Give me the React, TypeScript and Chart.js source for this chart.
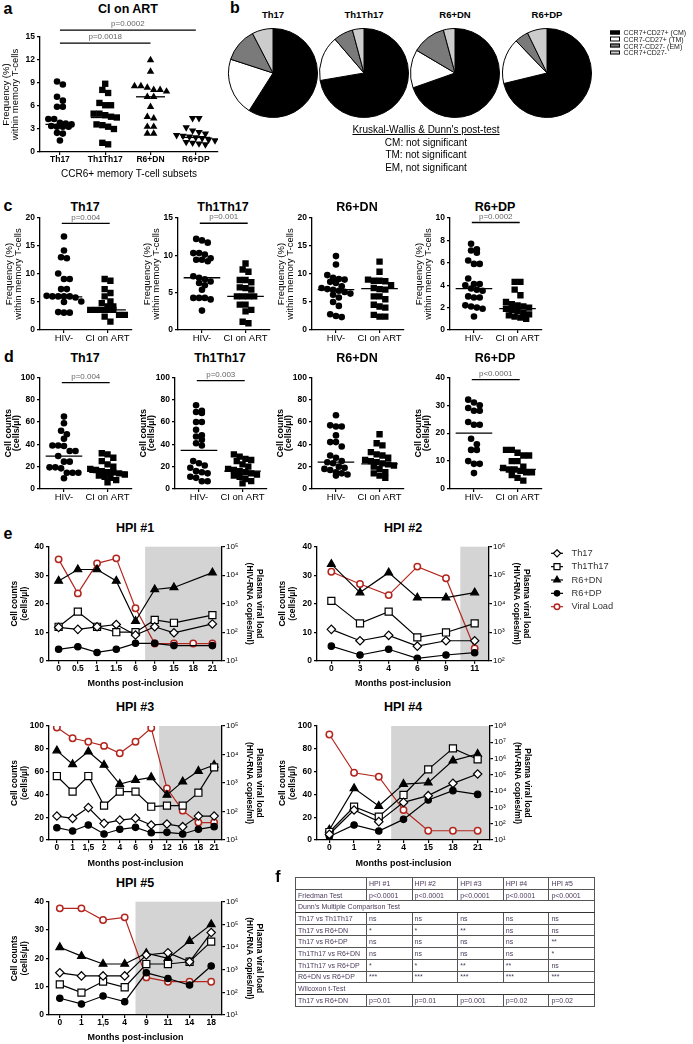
import React, { useEffect, useRef } from 'react';
import { Chart, registerables } from 'chart.js';

Chart.register(...registerables);

const FONT = 'Arial, "Liberation Sans", Helvetica, sans-serif';
Chart.defaults.font.family = FONT;
Chart.defaults.color = '#000';

// ================= Panel a : CI on ART =================
const aCategories = ['Th17', 'Th1Th17', 'R6+DN', 'R6+DP'];
const aTh17 = [9.2, 8.8, 7.2, 6.7, 5.9, 5.9, 4.3, 4.3, 3.8, 3.7, 3.6, 3.4, 3.3, 3.3, 3.3, 2.5, 2.4, 1.5];
const aTh1Th17 = [8.9, 8.1, 7.7, 6.4, 6.1, 6.1, 5.0, 5.0, 4.8, 4.6, 4.5, 3.6, 3.5, 3.3, 3.0, 1.2, 1.0];
const aR6DN = [12.0, 10.5, 8.6, 8.6, 8.4, 8.1, 8.1, 7.9, 7.2, 7.2, 5.9, 4.6, 4.4, 3.3, 3.3, 2.4, 2.4];
const aR6DP = [4.4, 4.4, 3.2, 2.8, 2.6, 2.4, 2.2, 2.1, 2.0, 1.9, 1.8, 1.6, 1.5, 1.3, 1.2, 1.1, 1.0];
const aMedians = [3.6, 4.5, 7.2, 1.9];
const aBrackets = [
  { from: 0, to: 3, at: 15.9, text: 'p=0.0002' },
  { from: 0, to: 2, at: 14.2, text: 'p=0.0018' },
];

// ================= Panel b : pies =================
const pieTitles = ['Th17', 'Th1Th17', 'R6+DN', 'R6+DP'];
const pieLabels = ['CCR7+CD27+ (CM)', 'CCR7-CD27+ (TM)', 'CCR7-CD27- (EM)', 'CCR7+CD27-'];
const pieColors = ['#000000', '#ffffff', '#7a7a7a', '#cccccc'];
const pieTh17 = [59.0, 21.0, 12.4, 7.6];
const pieTh1Th17 = [72.3, 16.4, 7.1, 4.2];
const pieR6DN = [69.6, 13.9, 12.3, 4.2];
const pieR6DP = [71.2, 16.6, 5.0, 7.2];
const kwLines = ["Kruskal-Wallis & Dunn's post-test", 'CM: not significant', 'TM: not significant', 'EM, not significant'];

// ================= Panels c & d =================
const groupLabels = ['HIV-', 'CI on ART'];
const subsetTitles = ['Th17', 'Th1Th17', 'R6+DN', 'R6+DP'];

const cTh17HIV = [16.7, 14.2, 13.0, 12.8, 10.1, 9.1, 9.1, 7.3, 7.3, 6.0, 6.0, 6.0, 6.1, 6.0, 5.8, 5.1, 5.0, 3.2, 3.1, 3.1];
const cTh17ART = [9.1, 8.8, 7.3, 6.6, 6.0, 5.1, 4.8, 4.2, 4.2, 3.6, 3.6, 3.6, 3.6, 3.6, 2.7, 2.7, 2.4, 1.5];
const cTh1Th17HIV = [12.2, 12.0, 11.7, 10.3, 10.3, 10.1, 9.6, 9.4, 9.4, 9.2, 7.2, 7.0, 6.8, 6.5, 6.3, 6.0, 5.4, 4.3, 4.3, 4.3, 4.1, 2.6];
const cTh1Th17ART = [8.9, 8.1, 7.8, 6.7, 6.7, 6.4, 5.7, 5.6, 5.4, 4.5, 4.5, 4.5, 4.5, 3.4, 3.4, 2.7, 2.5, 1.1, 0.9];
const cR6DNHIV = [13.2, 11.7, 9.8, 9.3, 9.1, 9.0, 8.6, 8.4, 7.8, 7.5, 7.3, 7.2, 7.0, 6.8, 6.5, 6.3, 5.8, 5.0, 4.3, 2.8, 2.5, 2.3];
const cR6DNART = [12.2, 10.4, 9.0, 8.8, 8.8, 8.7, 8.0, 7.5, 7.3, 7.2, 6.0, 6.0, 5.5, 4.5, 4.2, 4.0, 2.7, 2.4, 2.4];
const cR6DPHIV = [7.7, 7.2, 7.1, 6.9, 6.2, 5.9, 5.9, 4.6, 4.1, 4.1, 4.0, 3.7, 3.6, 3.5, 3.0, 2.9, 2.9, 2.2, 2.1, 2.0, 1.9, 1.2];
const cR6DPART = [4.3, 4.3, 3.6, 3.1, 2.5, 2.3, 2.2, 2.1, 2.0, 1.9, 1.8, 1.7, 1.5, 1.4, 1.3, 1.2, 1.1, 1.0];
const cMedians = [[5.9, 3.6], [7.0, 4.5], [7.2, 7.4], [3.7, 1.9]];
const cYMax = [20, 15, 20, 10];
const cYStep = [5, 5, 5, 2];
const cBrackets = [
  [{ from: -0.05, to: 1.05, at: 19.05, text: 'p=0.004' }],
  [{ from: -0.05, to: 1.05, at: 14.3, text: 'p=0.001' }],
  [],
  [{ from: -0.05, to: 1.05, at: 9.6, text: 'p=0.0002' }],
];

const dTh17HIV = [64.8, 58.8, 52.2, 49, 45, 39, 39, 38.5, 34, 34, 29.5, 24.5, 24.5, 19.4, 19.4, 18.5, 14.6, 14.6, 14.6, 9.6];
const dTh17ART = [32, 31, 28, 25, 22, 20, 18, 17, 16, 15, 15, 14, 13, 12, 11, 10, 8, 6];
const dTh1Th17HIV = [75, 70, 69, 68, 60, 60, 53, 48, 47, 44, 41, 39, 25, 23, 21, 19, 16, 15, 14, 11, 10, 7, 7];
const dTh1Th17ART = [31, 29, 27, 26, 25, 22, 20, 18, 17, 16, 15, 14, 13, 12, 11, 9, 7, 5];
const dR6DNHIV = [66, 57, 56, 56, 48, 42, 42, 38, 30, 28, 25, 24, 23, 20, 19, 18, 17, 15, 14, 13, 12];
const dR6DNART = [49, 41, 39, 33, 31, 30, 28, 26, 25, 24, 23, 22, 21, 20, 18, 15, 14, 12, 10];
const dR6DPHIV = [32, 31, 30, 29, 28, 28, 24, 23, 23, 18, 16, 14, 14, 10, 9, 9, 5.7];
const dR6DPART = [14, 14, 13, 12, 12, 10, 10, 8, 7.5, 7, 7, 6.5, 6, 6, 5, 4, 3];
const dMedians = [[29.5, 15], [34.5, 16], [24, 22.5], [20, 7]];
const dYMax = [100, 100, 100, 40];
const dYStep = [20, 20, 20, 10];
const dBrackets = [
  [{ from: -0.05, to: 1.05, at: 95.2, text: 'p=0.004' }],
  [{ from: -0.05, to: 1.05, at: 97, text: 'p=0.003' }],
  [],
  [{ from: -0.05, to: 1.05, at: 39.2, text: 'p<0.0001' }],
];

// ================= Panel e : HPI follow-up =================
const hpi1Months = ['0', '0.5', '1', '1.5', '6', '9', '15', '18', '21'];
const hpi1Th17 = [11.7, 11, 11.9, 12.7, 9, 11.9, 9.8, null, 12.9];
const hpi1Th1Th17 = [11.9, 17.2, 11.9, 10, 10, 14.3, 13.3, null, 16];
const hpi1R6DN = [28, 32, 32, 28, 13.9, 25, 25.7, null, 30.9];
const hpi1R6DP = [4, 4.9, 2.9, 4, 6.1, 6.1, 5.3, null, 5.3];
const hpi1VL = [36000, 2300, 26000, 39000, 690, 40, 40, 40, 40];

const hpi2Months = ['0', '3', '4', '6', '9', '11'];
const hpi2Th17 = [11, 7, 8.9, 5.1, 7, 7];
const hpi2Th1Th17 = [21, 13.1, 17.2, 8.2, 9.9, 13.1];
const hpi2R6DN = [33.9, 23.9, 30.9, 22.1, 22.1, 23.9];
const hpi2R6DP = [5.1, 2, 4, 0.8, 2, 2.8];
const hpi2VL = [132000, 49000, 20000, 200000, 78000, 270];

const hpi3Months = ['0', '1', '1,5', '2', '4', '6', '9', '12', '16', '18', '21'];
const hpi3Th17 = [21, 19, 28.4, 14.6, 17.5, 19, 13.2, 14, 11.7, 21, 21];
const hpi3Th1Th17 = [56.1, 42.4, 56.1, 30.1, 42.4, 42.4, 29.2, 30.1, 30.1, 41.5, 63.7];
const hpi3R6DN = [78.4, 66.4, 77.5, 65.8, 49.1, 52.6, 55, 39.5, 51.2, 60.5, 65.8];
const hpi3R6DP = [10.8, 7.9, 13.2, 5.3, 9.4, 11.1, 6.4, 6.7, 5.3, 9.4, 11.7];
const hpi3VL = [89000, 37000, 28000, 20000, 11000, 28000, 85000, 650, 107, 41, 41];

const hpi4Months = ['0', '1', '2', '4', '15', '18', '21'];
const hpi4Th17 = [5, 26.3, 16.1, 33, 38.9, 49.7, 57.9];
const hpi4Th1Th17 = [7, 29.2, 20.5, 39.5, 62, 80.4, 70.8];
const hpi4R6DN = [9, 45.3, 29.8, 49.1, 50.3, 69.6, 75.4];
const hpi4R6DP = [3, 13.2, 7.9, 18.1, 35.1, 43.3, 40];
const hpi4VL = [30000000, 135000, 77000, 690, 37, 37, 37];

const hpi5Months = ['0', '1', '1,5', '4', '9', '11', '14', '18'];
const hpi5Th17 = [14.9, 13.8, 13.8, 13.8, 21.2, 22, 18.8, 29.1];
const hpi5Th1Th17 = [10.8, 7.9, 11.8, 9.8, 18, 18, 18.8, 25.9];
const hpi5R6DN = [23.9, 20.8, 18, 18, 21.8, 20, 26.1, 32];
const hpi5R6DP = [5.9, 3.9, 6.7, 4.7, 14.9, 12.9, 10.6, 17.3];
const hpi5VL = [510000, 510000, 155000, 204000, 457, 295, 295, 295];

// ================= Panel f : table =================
const tableHeader = ['', 'HPI #1', 'HPI #2', 'HPI #3', 'HPI #4', 'HPI #5'];
const friedmanRow = ['Friedman Test', 'p<0.0001', 'p<0.0001', 'p<0.0001', 'p<0.0001', 'p<0.0001'];
const dunnTitle = "Dunn's Multiple Comparison Test";
const dunnRows = [
  ['Th17 vs Th1Th17', 'ns', 'ns', 'ns', 'ns', 'ns'],
  ['Th17 vs R6+DN', '*', '*', '**', 'ns', 'ns'],
  ['Th17 vs  R6+DP', 'ns', 'ns', 'ns', 'ns', '**'],
  ['Th1Th17 vs R6+DN', 'ns', 'ns', 'ns', 'ns', '*'],
  ['Th1Th17 vs R6+DP', '*', '*', '**', '**', 'ns'],
  ['R6+DN vs  R6+DP', '***', '***', '***', '***', '***'],
];
const wilcoxonTitle = 'Wilcoxon t-Test';
const wilcoxonRow = ['Th17 vs R6+DN', 'p=0.01', 'p=0.01', 'p=0.001', 'p=0.02', 'p=0.02'];

// ================= helpers =================
const RED = '#b3261e';
const SUP = '⁰¹²³⁴⁵⁶⁷⁸⁹';
const powLabel = (v: number) => '10' + SUP[Math.round(Math.log10(v))];

const axisBorder = { display: true, color: '#000', width: 1.3 };
const axisGrid = { display: true, drawOnChartArea: false, drawTicks: true, tickLength: 3, color: '#000', lineWidth: 1.2 };

function swarm(values: number[], cat: number, pxY: number, pxX: number, d: number) {
  const sorted = [...values].sort((a, b) => b - a);
  const rows: number[][] = [];
  for (const v of sorted) {
    const row = rows[rows.length - 1];
    if (row && (row[0] - v) * pxY < d) row.push(v);
    else rows.push([v]);
  }
  const pts: { x: number; y: number }[] = [];
  rows.forEach((row) =>
    row.forEach((v, k) => pts.push({ x: cat + ((k - (row.length - 1) / 2) * d) / pxX, y: v }))
  );
  return pts;
}

const shadePlugin = {
  id: 'shade',
  beforeDraw(chart: any, _a: any, opts: any) {
    if (!opts || opts.from == null) return;
    const { ctx, chartArea, scales } = chart;
    const x0 = scales.x.getPixelForValue(opts.from);
    ctx.save();
    ctx.fillStyle = '#d4d4d4';
    ctx.fillRect(x0, chartArea.top, chartArea.right - x0, chartArea.bottom - chartArea.top);
    ctx.restore();
  },
};

const bracketPlugin = {
  id: 'brackets',
  afterDatasetsDraw(chart: any, _a: any, opts: any) {
    const items = (opts && opts.items) || [];
    const { ctx, scales } = chart;
    for (let i = 0; i < items.length; i++) {
      const b = items[i];
      const x1 = scales.x.getPixelForValue(b.from);
      const x2 = scales.x.getPixelForValue(b.to);
      const y = scales.y.getPixelForValue(b.at);
      ctx.save();
      ctx.strokeStyle = '#000';
      ctx.lineWidth = 1.3;
      ctx.beginPath();
      ctx.moveTo(x1, y);
      ctx.lineTo(x2, y);
      ctx.stroke();
      ctx.fillStyle = '#666';
      ctx.font = `8px ${FONT}`;
      ctx.textAlign = 'center';
      ctx.textBaseline = 'bottom';
      ctx.fillText(b.text, (x1 + x2) / 2, y - 2);
      ctx.restore();
    }
  },
};

function drawMarker(ctx: any, style: string, x: number, y: number, r: number, fill: string, stroke: string, lw: number) {
  ctx.beginPath();
  if (style === 'circle') ctx.arc(x, y, r, 0, Math.PI * 2);
  else if (style === 'rect') {
    const s = r * Math.SQRT1_2;
    ctx.rect(x - s, y - s, 2 * s, 2 * s);
  } else if (style === 'rectRot') {
    ctx.moveTo(x, y - r);
    ctx.lineTo(x + r, y);
    ctx.lineTo(x, y + r);
    ctx.lineTo(x - r, y);
    ctx.closePath();
  } else {
    for (let k = 0; k < 3; k++) {
      const a = (k * 2 * Math.PI) / 3;
      const px = x + Math.sin(a) * r;
      const py = y - Math.cos(a) * r;
      if (k === 0) ctx.moveTo(px, py);
      else ctx.lineTo(px, py);
    }
    ctx.closePath();
  }
  ctx.fillStyle = fill;
  ctx.fill();
  ctx.lineWidth = lw;
  ctx.strokeStyle = stroke;
  ctx.stroke();
}

const lineLegendPlugin = {
  id: 'lineLegend',
  afterDraw(chart: any, _a: any, opts: any) {
    if (!opts || !opts.show) return;
    const { ctx, chartArea } = chart;
    const x0 = chartArea.right + opts.dx;
    chart.data.datasets.forEach((ds: any, i: number) => {
      const y = chartArea.top + opts.dy + i * opts.gap;
      ctx.save();
      ctx.strokeStyle = ds.borderColor;
      ctx.lineWidth = 1.2;
      ctx.beginPath();
      ctx.moveTo(x0 - 6, y);
      ctx.lineTo(x0 + 6, y);
      ctx.stroke();
      drawMarker(ctx, ds.pointStyle, x0, y, ds.pointRadius * 0.85, ds.pointBackgroundColor, ds.pointBorderColor, ds.pointBorderWidth);
      ctx.fillStyle = '#333';
      ctx.font = `9.3px ${FONT}`;
      ctx.textAlign = 'left';
      ctx.textBaseline = 'middle';
      ctx.fillText(ds.label, x0 + 14.5, y);
      ctx.restore();
    });
  },
};

type Group = { values: number[]; style: string; radius: number; spacing: number; rotation?: number };

function dotConfig(p: any) {
  const plotH = p.h - p.padTop - p.xHeight;
  const plotW = p.w - p.yWidth - p.padRight;
  const pxY = plotH / p.yMax;
  const pxX = plotW / (p.xMax - p.xMin);
  const datasets: any[] = p.groups.map((g: Group, i: number) => ({
    data: swarm(g.values, i, pxY, pxX, g.spacing),
    pointStyle: g.style,
    pointRotation: g.rotation || 0,
    pointRadius: g.radius,
    pointBackgroundColor: '#000',
    pointBorderColor: '#000',
    pointBorderWidth: 0,
    showLine: false,
  }));
  p.medians.forEach((m: number, i: number) =>
    datasets.push({
      data: [
        { x: i - p.medianHalf, y: m },
        { x: i + p.medianHalf, y: m },
      ],
      showLine: true,
      borderColor: '#000',
      borderWidth: 1.3,
      pointRadius: 0,
    })
  );
  return {
    type: 'scatter',
    data: { datasets },
    options: {
      responsive: false,
      animation: false,
      devicePixelRatio: 1,
      layout: { padding: { top: p.padTop, right: p.padRight, left: 0, bottom: 0 } },
      plugins: { legend: { display: false }, tooltip: { enabled: false }, brackets: { items: p.brackets } },
      scales: {
        x: {
          type: 'linear',
          min: p.xMin,
          max: p.xMax,
          afterBuildTicks: (s: any) => {
            s.ticks = p.labels.map((_: string, i: number) => ({ value: i }));
          },
          afterFit: (s: any) => {
            s.height = p.xHeight;
          },
          ticks: {
            callback: (v: number) => p.labels[v] ?? '',
            font: p.xFont,
            padding: 0,
            maxRotation: 0,
            minRotation: 0,
            autoSkip: false,
          },
          grid: axisGrid,
          border: axisBorder,
          title: p.xTitle
            ? { display: true, text: p.xTitle, font: { size: 10 }, padding: { top: 0, bottom: 2 } }
            : { display: false },
        },
        y: {
          min: 0,
          max: p.yMax,
          afterFit: (s: any) => {
            s.width = p.yWidth;
          },
          ticks: { stepSize: p.yStep, font: { size: 8.5, weight: 'bold' }, padding: 2 },
          grid: axisGrid,
          border: axisBorder,
          title: {
            display: true,
            text: p.yTitle,
            font: { size: p.yTitleSize, lineHeight: p.yTitleLine, weight: p.yTitleBold ? 'bold' : 'normal' },
            padding: { top: p.yTitlePad, bottom: 0 },
          },
        },
      },
    },
    plugins: [bracketPlugin],
  };
}

function hpiConfig(p: any) {
  const base = {
    borderColor: '#000',
    borderWidth: 1.2,
    pointBorderColor: '#000',
    pointBorderWidth: 1.2,
    spanGaps: true,
    yAxisID: 'y',
  };
  const datasets = [
    { ...base, label: 'Th17', data: p.th17, pointStyle: 'rectRot', pointRadius: 4.2, pointBackgroundColor: '#fff' },
    { ...base, label: 'Th1Th17', data: p.th1th17, pointStyle: 'rect', pointRadius: 5, pointBackgroundColor: '#fff' },
    { ...base, label: 'R6+DN', data: p.dn, pointStyle: 'triangle', pointRadius: 4.5, pointBackgroundColor: '#000' },
    { ...base, label: 'R6+DP', data: p.dp, pointStyle: 'circle', pointRadius: 3.2, pointBackgroundColor: '#000' },
    {
      ...base,
      label: 'Viral Load',
      data: p.vl,
      yAxisID: 'y2',
      borderColor: RED,
      pointBorderColor: RED,
      pointStyle: 'circle',
      pointRadius: 3.2,
      pointBorderWidth: 1.5,
      pointBackgroundColor: '#fff',
    },
  ];
  const powers: number[] = [];
  for (let v = p.vlMin; v <= p.vlMax * 1.001; v *= 10) powers.push(v);
  return {
    type: 'line',
    data: { labels: p.months, datasets },
    options: {
      responsive: false,
      animation: false,
      devicePixelRatio: 1,
      layout: { padding: { top: p.padTop, right: p.padRight || 0, left: 0, bottom: 0 } },
      plugins: {
        legend: { display: false },
        tooltip: { enabled: false },
        shade: { from: p.shadeFrom },
        lineLegend: p.legend || { show: false },
      },
      scales: {
        x: {
          type: 'category',
          offset: true,
          afterFit: (s: any) => {
            s.height = p.xHeight;
          },
          ticks: { font: { size: 8.5, weight: 'bold' }, padding: 0, autoSkip: false, maxRotation: 0, minRotation: 0 },
          grid: { ...axisGrid, offset: false },
          border: axisBorder,
          title: {
            display: true,
            text: 'Months post-inclusion',
            font: { size: 9, weight: 'bold', lineHeight: 1.2 },
            padding: { top: 0, bottom: 1.5 },
          },
        },
        y: {
          type: 'linear',
          position: 'left',
          min: 0,
          max: p.yMax,
          afterFit: (s: any) => {
            s.width = 49;
          },
          ticks: { stepSize: p.yStep, font: { size: 8.5, weight: 'bold' }, padding: 2 },
          grid: axisGrid,
          border: axisBorder,
          title: {
            display: true,
            text: ['Cell counts', '(cells/µl)'],
            font: { size: 8.5, weight: 'bold', lineHeight: 1.15 },
            padding: { top: 10, bottom: 0 },
          },
        },
        y2: {
          type: 'logarithmic',
          position: 'right',
          min: p.vlMin,
          max: p.vlMax,
          afterBuildTicks: (s: any) => {
            s.ticks = powers.map((v) => ({ value: v }));
          },
          afterFit: (s: any) => {
            s.width = 48;
          },
          ticks: { callback: (v: number) => powLabel(v), font: { size: 8 }, padding: 1, autoSkip: false },
          grid: axisGrid,
          border: axisBorder,
          title: {
            display: true,
            text: ['Plasma viral load', '(HIV-RNA copies/ml)'],
            font: { size: 8.5, weight: 'bold', lineHeight: 1.15 },
            padding: { top: 6, bottom: 0 },
          },
        },
      },
    },
    plugins: [shadePlugin, lineLegendPlugin],
  };
}

function pieConfig(values: number[]) {
  return {
    type: 'pie',
    data: {
      labels: pieLabels,
      datasets: [{ data: values, backgroundColor: pieColors, borderColor: '#000', borderWidth: 1 }],
    },
    options: {
      responsive: false,
      animation: false,
      devicePixelRatio: 1,
      layout: { padding: 1 },
      plugins: { legend: { display: false }, tooltip: { enabled: false } },
    },
  };
}

// ================= components =================
function ChartCanvas({ left, top, width, height, make }: any) {
  const ref = useRef<HTMLCanvasElement | null>(null);
  useEffect(() => {
    if (!ref.current) return;
    const chart = new Chart(ref.current, make());
    return () => chart.destroy();
  }, []);
  return (
    <canvas
      ref={ref}
      width={width}
      height={height}
      style={{ position: 'absolute', left, top, width, height, display: 'block' }}
    />
  );
}

function Txt({ x, y, size, bold, align = 'center', color = '#000', underline, children }: any) {
  const tx = align === 'center' ? '-50%' : align === 'right' ? '-100%' : '0';
  return (
    <div
      style={{
        position: 'absolute',
        left: x,
        top: y,
        transform: `translate(${tx}, -50%)`,
        fontSize: size,
        fontWeight: bold ? 'bold' : 'normal',
        lineHeight: 1,
        whiteSpace: 'nowrap',
        color,
        textDecoration: underline ? 'underline' : 'none',
        fontFamily: FONT,
      }}
    >
      {children}
    </div>
  );
}

function StatsTable() {
  const cell: any = {
    border: '1px solid #555',
    padding: '0 2px',
    fontSize: 7,
    color: '#4b3b5c',
    whiteSpace: 'nowrap',
    overflow: 'hidden',
    lineHeight: '9px',
    textAlign: 'left',
  };
  const rowH = { height: 11.7 };
  return (
    <table
      style={{
        position: 'absolute',
        left: 295,
        top: 877,
        width: 299,
        borderCollapse: 'collapse',
        tableLayout: 'fixed',
        border: '1.5px solid #333',
        fontFamily: FONT,
      }}
    >
      <colgroup>
        <col style={{ width: 71 }} />
        {[0, 1, 2, 3, 4].map((i) => (
          <col key={i} style={{ width: 45.6 }} />
        ))}
      </colgroup>
      <tbody>
        <tr style={rowH}>
          {tableHeader.map((h, i) => (
            <td key={i} style={cell}>
              {h}
            </td>
          ))}
        </tr>
        <tr style={rowH}>
          {friedmanRow.map((h, i) => (
            <td key={i} style={cell}>
              {h}
            </td>
          ))}
        </tr>
        <tr style={rowH}>
          <td colSpan={6} style={{ ...cell, borderTop: '1.5px solid #333', borderBottom: '1.5px solid #333' }}>
            {dunnTitle}
          </td>
        </tr>
        {dunnRows.map((r, ri) => (
          <tr key={ri} style={rowH}>
            {r.map((h, i) => (
              <td key={i} style={cell}>
                {h}
              </td>
            ))}
          </tr>
        ))}
        <tr style={rowH}>
          <td colSpan={6} style={{ ...cell, borderTop: '1.5px solid #333', borderBottom: '1.5px solid #333' }}>
            {wilcoxonTitle}
          </td>
        </tr>
        <tr style={rowH}>
          {wilcoxonRow.map((h, i) => (
            <td key={i} style={cell}>
              {h}
            </td>
          ))}
        </tr>
      </tbody>
    </table>
  );
}

const cData = [
  [cTh17HIV, cTh17ART],
  [cTh1Th17HIV, cTh1Th17ART],
  [cR6DNHIV, cR6DNART],
  [cR6DPHIV, cR6DPART],
];
const dData = [
  [dTh17HIV, dTh17ART],
  [dTh1Th17HIV, dTh1Th17ART],
  [dR6DNHIV, dR6DNART],
  [dR6DPHIV, dR6DPART],
];
const pieData = [pieTh17, pieTh1Th17, pieR6DN, pieR6DP];

export default function App() {
  const cAxisX = [40, 178, 312, 450];
  const dAxisX = [40, 175, 312, 450];
  const pieX = [273, 364, 455, 547];
  const circle = { style: 'circle', radius: 3.3, spacing: 5.8 };
  const square = { style: 'rect', radius: 4.5, spacing: 5.8 };

  return (
    <div
      style={{
        position: 'absolute',
        left: 0,
        top: 0,
        width: 693,
        height: 1044,
        background: '#fff',
        overflow: 'hidden',
        fontFamily: FONT,
      }}
    >
      {/* ---------- panel a ---------- */}
      <Txt x={8} y={9} size={16} bold>
        a
      </Txt>
      <Txt x={128} y={8.5} size={12.5} bold>
        CI on ART
      </Txt>
      <ChartCanvas
        left={0}
        top={0}
        width={226}
        height={182}
        make={() =>
          dotConfig({
            w: 226,
            h: 182,
            padTop: 37,
            padRight: 8,
            yWidth: 40,
            xHeight: 30,
            yMax: 15,
            yStep: 3,
            xMin: -0.44,
            xMax: 3.49,
            labels: aCategories,
            xFont: { size: 8.5, weight: 'bold' },
            xTitle: 'CCR6+ memory T-cell subsets',
            groups: [
              { values: aTh17, ...circle },
              { values: aTh1Th17, ...square },
              { values: aR6DN, style: 'triangle', radius: 4.3, spacing: 6.4 },
              { values: aR6DP, style: 'triangle', radius: 4.3, spacing: 6.4, rotation: 180 },
            ],
            medians: aMedians,
            medianHalf: 0.32,
            yTitle: ['Frequency (%)', 'within memory T-cells'],
            yTitleSize: 9.5,
            yTitleLine: 0.9,
            yTitlePad: 2.5,
            brackets: aBrackets,
          })
        }
      />

      {/* ---------- panel b ---------- */}
      <Txt x={235} y={8} size={16} bold>
        b
      </Txt>
      {pieTitles.map((t, i) => (
        <Txt key={t} x={pieX[i]} y={15} size={9.5} bold>
          {t}
        </Txt>
      ))}
      {pieData.map((vals, i) => (
        <ChartCanvas key={i} left={pieX[i] - 46} top={27} width={92} height={92} make={() => pieConfig(vals)} />
      ))}
      {pieLabels.map((l, i) => (
        <div
          key={l}
          style={{ position: 'absolute', left: 610, top: 32.3 + i * 6.7, transform: 'translateY(-50%)', display: 'flex', alignItems: 'center' }}
        >
          <div style={{ width: 9.5, height: 4.6, background: pieColors[i], border: '0.8px solid #000', boxSizing: 'border-box' }} />
          <span style={{ fontSize: 7, marginLeft: 4, lineHeight: 1, color: '#222', whiteSpace: 'nowrap' }}>{l}</span>
        </div>
      ))}
      {kwLines.map((l, i) => (
        <Txt key={l} x={426} y={130 + i * 12.7} size={10} underline={i === 0}>
          {l}
        </Txt>
      ))}

      {/* ---------- panel c ---------- */}
      <Txt x={8} y={206} size={16} bold>
        c
      </Txt>
      {subsetTitles.map((t, i) => (
        <Txt key={'ct' + t} x={cAxisX[i] + 45} y={207} size={12.5} bold>
          {t}
        </Txt>
      ))}
      {cData.map((pair, i) => (
        <ChartCanvas
          key={'c' + i}
          left={cAxisX[i] - 40}
          top={200}
          width={136}
          height={145}
          make={() =>
            dotConfig({
              w: 136,
              h: 145,
              padTop: 18,
              padRight: 4,
              yWidth: 40,
              xHeight: 15,
              yMax: cYMax[i],
              yStep: cYStep[i],
              xMin: -0.55,
              xMax: 1.55,
              labels: groupLabels,
              xFont: { size: 9.5 },
              groups: [
                { values: pair[0], ...circle },
                { values: pair[1], ...square },
              ],
              medians: cMedians[i],
              medianHalf: 0.42,
              yTitle: ['Frequency (%)', 'within memory T-cells'],
              yTitleSize: 9.5,
              yTitleLine: 0.95,
              yTitlePad: 5,
              brackets: cBrackets[i],
            })
          }
        />
      ))}

      {/* ---------- panel d ---------- */}
      <Txt x={9} y={357} size={16} bold>
        d
      </Txt>
      {subsetTitles.map((t, i) => (
        <Txt key={'dt' + t} x={dAxisX[i] + 45} y={357.5} size={12.5} bold>
          {t}
        </Txt>
      ))}
      {dData.map((pair, i) => (
        <ChartCanvas
          key={'d' + i}
          left={dAxisX[i] - 40}
          top={360}
          width={136}
          height={145}
          make={() =>
            dotConfig({
              w: 136,
              h: 145,
              padTop: 17.3,
              padRight: 4,
              yWidth: 40,
              xHeight: 16,
              yMax: dYMax[i],
              yStep: dYStep[i],
              xMin: -0.55,
              xMax: 1.55,
              labels: groupLabels,
              xFont: { size: 9.5 },
              groups: [
                { values: pair[0], ...circle },
                { values: pair[1], ...square },
              ],
              medians: dMedians[i],
              medianHalf: 0.42,
              yTitle: ['Cell counts', '(cells/µl)'],
              yTitleSize: 9,
              yTitleLine: 0.95,
              yTitlePad: 4,
              yTitleBold: true,
              brackets: dBrackets[i],
            })
          }
        />
      ))}

      {/* ---------- panel e ---------- */}
      <Txt x={8} y={534} size={16} bold>
        e
      </Txt>
      <Txt x={135} y={528} size={12.5} bold>
        HPI #1
      </Txt>
      <Txt x={403} y={528} size={12.5} bold>
        HPI #2
      </Txt>
      <Txt x={135} y={707} size={12.5} bold>
        HPI #3
      </Txt>
      <Txt x={403} y={707} size={12.5} bold>
        HPI #4
      </Txt>
      <Txt x={135} y={883} size={12.5} bold>
        HPI #5
      </Txt>
      <ChartCanvas
        left={0}
        top={535}
        width={270}
        height={155}
        make={() =>
          hpiConfig({
            months: hpi1Months,
            th17: hpi1Th17,
            th1th17: hpi1Th1Th17,
            dn: hpi1R6DN,
            dp: hpi1R6DP,
            vl: hpi1VL,
            yMax: 40,
            yStep: 10,
            vlMin: 1e1,
            vlMax: 1e5,
            shadeFrom: 4.5,
            padTop: 11.7,
            xHeight: 29.3,
          })
        }
      />
      <ChartCanvas
        left={268}
        top={535}
        width={425}
        height={155}
        make={() =>
          hpiConfig({
            months: hpi2Months,
            th17: hpi2Th17,
            th1th17: hpi2Th1Th17,
            dn: hpi2R6DN,
            dp: hpi2R6DP,
            vl: hpi2VL,
            yMax: 40,
            yStep: 10,
            vlMin: 1e2,
            vlMax: 1e6,
            shadeFrom: 4.5,
            padTop: 11.7,
            padRight: 156,
            xHeight: 29.3,
            legend: { show: true, dx: 68, dy: 6.6, gap: 13.35 },
          })
        }
      />
      <ChartCanvas
        left={0}
        top={715}
        width={270}
        height={155}
        make={() =>
          hpiConfig({
            months: hpi3Months,
            th17: hpi3Th17,
            th1th17: hpi3Th1Th17,
            dn: hpi3R6DN,
            dp: hpi3R6DP,
            vl: hpi3VL,
            yMax: 100,
            yStep: 20,
            vlMin: 1e1,
            vlMax: 1e5,
            shadeFrom: 6.5,
            padTop: 11,
            xHeight: 30,
          })
        }
      />
      <ChartCanvas
        left={268}
        top={715}
        width={270}
        height={155}
        make={() =>
          hpiConfig({
            months: hpi4Months,
            th17: hpi4Th17,
            th1th17: hpi4Th1Th17,
            dn: hpi4R6DN,
            dp: hpi4R6DP,
            vl: hpi4VL,
            yMax: 100,
            yStep: 20,
            vlMin: 1e1,
            vlMax: 1e8,
            shadeFrom: 2.5,
            padTop: 11,
            xHeight: 30,
          })
        }
      />
      <ChartCanvas
        left={0}
        top={890}
        width={270}
        height={154}
        make={() =>
          hpiConfig({
            months: hpi5Months,
            th17: hpi5Th17,
            th1th17: hpi5Th1Th17,
            dn: hpi5R6DN,
            dp: hpi5R6DP,
            vl: hpi5VL,
            yMax: 40,
            yStep: 10,
            vlMin: 1e1,
            vlMax: 1e6,
            shadeFrom: 3.5,
            padTop: 11.7,
            xHeight: 29,
          })
        }
      />

      {/* ---------- panel f ---------- */}
      <Txt x={278} y={877} size={16} bold>
        f
      </Txt>
      <StatsTable />
    </div>
  );
}
